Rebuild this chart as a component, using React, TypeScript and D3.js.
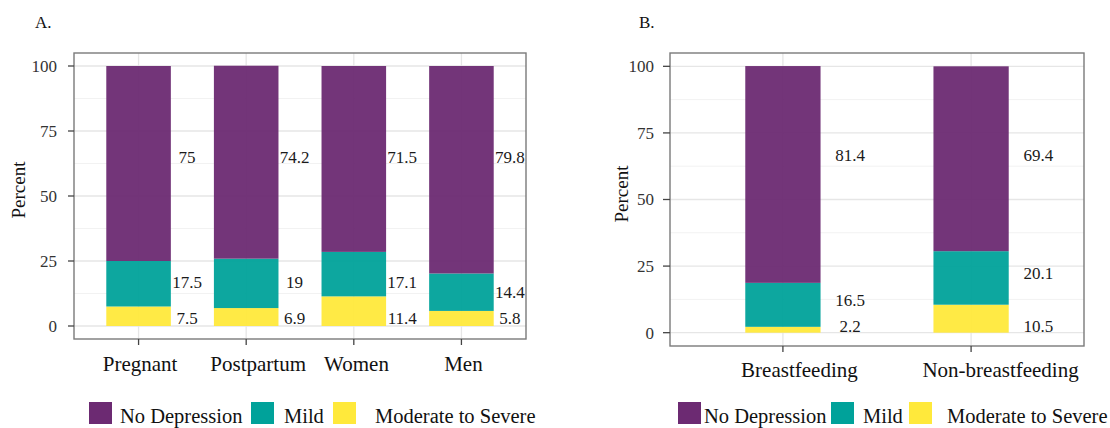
import React from "react";
import * as d3 from "d3";

// ---------- data ----------
const seriesKeys = ["severe", "mild", "noDep"];
const seriesNames = ["No Depression", "Mild", "Moderate to Severe"];
const seriesColors: Record<string, string> = {
  noDep: "#6C2A72",
  mild: "#00A29A",
  severe: "#FFE93B",
};

const categoriesA = ["Pregnant", "Postpartum", "Women", "Men"];
const severeA = [7.5, 6.9, 11.4, 5.8];
const mildA = [17.5, 19, 17.1, 14.4];
const noDepA = [75, 74.2, 71.5, 79.8];
// heights (percent units) at which the printed value labels sit
const noDepLabelA = [64.8, 64.8, 64.8, 64.8];
const mildLabelA = [17, 17, 17, 13.2];
const severeLabelA = [3, 3, 3, 3];

const categoriesB = ["Breastfeeding", "Non-breastfeeding"];
const severeB = [2.2, 10.5];
const mildB = [16.5, 20.1];
const noDepB = [81.4, 69.4];
const noDepLabelB = [66.7, 66.7];
const mildLabelB = [12.3, 22.4];
const severeLabelB = [2.5, 2.5];

const yTicks = [0, 25, 50, 75, 100];
const yMinor = [12.5, 37.5, 62.5, 87.5];

// ---------- layout ----------
const FONT = "'Liberation Serif', 'Times New Roman', serif";

const panelA = {
  title: "A.",
  titleX: 35,
  left: 74,
  right: 526,
  top: 53,
  bottom: 339,
  categories: categoriesA,
  severe: severeA,
  mild: mildA,
  noDep: noDepA,
  severeLabel: severeLabelA,
  mildLabel: mildLabelA,
  noDepLabel: noDepLabelA,
  barFrac: 0.6,
  labelFrac: 0.45,
  catNudge: [1.5, 12, 2.7, 2],
  catBaseline: 371,
  tickLabelEnd: 57,
  tickLen: 6,
  ylabX: 25,
  ylabY: 190,
  legendKeys: [89, 251, 333],
  legendTexts: [120, 284, 375],
};

const panelB = {
  title: "B.",
  titleX: 639,
  left: 670,
  right: 1084,
  top: 53,
  bottom: 346,
  categories: categoriesB,
  severe: severeB,
  mild: mildB,
  noDep: noDepB,
  severeLabel: severeLabelB,
  mildLabel: mildLabelB,
  noDepLabel: noDepLabelB,
  barFrac: 0.4,
  labelFrac: 0.357,
  catNudge: [16.5, 29.5],
  catBaseline: 377,
  tickLabelEnd: 654,
  tickLen: 7,
  ylabX: 628,
  ylabY: 194,
  legendKeys: [678, 831, 909],
  legendTexts: [704, 863, 947],
};

function Panel({ cfg }: { cfg: any }) {
  const x = d3
    .scalePoint<string>()
    .domain(cfg.categories)
    .range([cfg.left, cfg.right])
    .padding(0.6);
  const step = x.step();
  const y = d3.scaleLinear().domain([-5, 105]).range([cfg.bottom, cfg.top]);

  const rows = cfg.categories.map((c: string, i: number) => ({
    cat: c,
    severe: cfg.severe[i],
    mild: cfg.mild[i],
    noDep: cfg.noDep[i],
  }));
  const stacked = d3.stack<any>().keys(seriesKeys)(rows);
  const labelPos: Record<string, number[]> = {
    severe: cfg.severeLabel,
    mild: cfg.mildLabel,
    noDep: cfg.noDepLabel,
  };
  const bw = step * cfg.barFrac;

  const legendOrder = ["noDep", "mild", "severe"];

  return (
    <g>
      <text x={cfg.titleX} y={28} fontSize={17} fontFamily={FONT} fill="#111">
        {cfg.title}
      </text>
      {/* panel background */}
      <rect
        x={cfg.left}
        y={cfg.top}
        width={cfg.right - cfg.left}
        height={cfg.bottom - cfg.top}
        fill="#fff"
      />
      {/* minor grid */}
      {yMinor.map((v) => (
        <line
          key={"mn" + v}
          x1={cfg.left}
          x2={cfg.right}
          y1={y(v)}
          y2={y(v)}
          stroke="#f2f2f2"
          strokeWidth={1}
        />
      ))}
      {/* major grid */}
      {yTicks.map((v) => (
        <line
          key={"mj" + v}
          x1={cfg.left}
          x2={cfg.right}
          y1={y(v)}
          y2={y(v)}
          stroke="#e6e6e6"
          strokeWidth={1.3}
        />
      ))}
      {cfg.categories.map((c: string) => (
        <line
          key={"vg" + c}
          x1={x(c)}
          x2={x(c)}
          y1={cfg.top}
          y2={cfg.bottom}
          stroke="#e6e6e6"
          strokeWidth={1.3}
        />
      ))}
      {/* bars */}
      {stacked.map((s) =>
        s.map((d, i) => (
          <rect
            key={s.key + i}
            x={(x(d.data.cat) as number) - bw / 2}
            y={y(d[1])}
            width={bw}
            height={y(d[0]) - y(d[1])}
            fill={seriesColors[s.key]}
            fillOpacity={0.95}
          />
        ))
      )}
      {/* value labels */}
      {stacked.map((s) =>
        s.map((d, i) => (
          <text
            key={"lb" + s.key + i}
            x={(x(d.data.cat) as number) + step * cfg.labelFrac}
            y={y(labelPos[s.key][i])}
            dy="0.35em"
            textAnchor="middle"
            fontSize={17}
            fontFamily={FONT}
            fill="#1a1a1a"
          >
            {String(d.data[s.key])}
          </text>
        ))
      )}
      {/* border */}
      <rect
        x={cfg.left}
        y={cfg.top}
        width={cfg.right - cfg.left}
        height={cfg.bottom - cfg.top}
        fill="none"
        stroke="#7a7a7a"
        strokeWidth={1.4}
      />
      {/* y ticks */}
      {yTicks.map((v) => (
        <g key={"yt" + v}>
          <line
            x1={cfg.left - cfg.tickLen}
            x2={cfg.left}
            y1={y(v)}
            y2={y(v)}
            stroke="#444"
            strokeWidth={1.3}
          />
          <text
            x={cfg.tickLabelEnd}
            y={y(v)}
            dy="0.35em"
            textAnchor="end"
            fontSize={17}
            fontFamily={FONT}
            fill="#333"
          >
            {v}
          </text>
        </g>
      ))}
      {/* x ticks */}
      {cfg.categories.map((c: string, i: number) => (
        <g key={"xt" + c}>
          <line
            x1={x(c)}
            x2={x(c)}
            y1={cfg.bottom}
            y2={cfg.bottom + 6}
            stroke="#444"
            strokeWidth={1.3}
          />
          <text
            x={(x(c) as number) + cfg.catNudge[i]}
            y={cfg.catBaseline}
            textAnchor="middle"
            fontSize={21}
            fontFamily={FONT}
            fill="#111"
          >
            {c}
          </text>
        </g>
      ))}
      {/* y label */}
      <text
        transform={`translate(${cfg.ylabX},${cfg.ylabY}) rotate(-90)`}
        textAnchor="middle"
        fontSize={19}
        fontFamily={FONT}
        fill="#111"
      >
        Percent
      </text>
      {/* legend */}
      {legendOrder.map((k, i) => (
        <g key={"lg" + k}>
          <rect
            x={cfg.legendKeys[i]}
            y={402}
            width={23}
            height={22}
            fill={seriesColors[k]}
          />
          <text
            x={cfg.legendTexts[i]}
            y={423}
            fontSize={20.5}
            fontFamily={FONT}
            fill="#111"
          >
            {seriesNames[i]}
          </text>
        </g>
      ))}
    </g>
  );
}

export default function App() {
  return (
    <div style={{ position: "absolute", left: 0, top: 0 }}>
      <svg width={1110} height={428} style={{ display: "block", background: "#fff" }}>
        <rect width={1110} height={428} fill="#fff" />
        <Panel cfg={panelA} />
        <Panel cfg={panelB} />
      </svg>
    </div>
  );
}
